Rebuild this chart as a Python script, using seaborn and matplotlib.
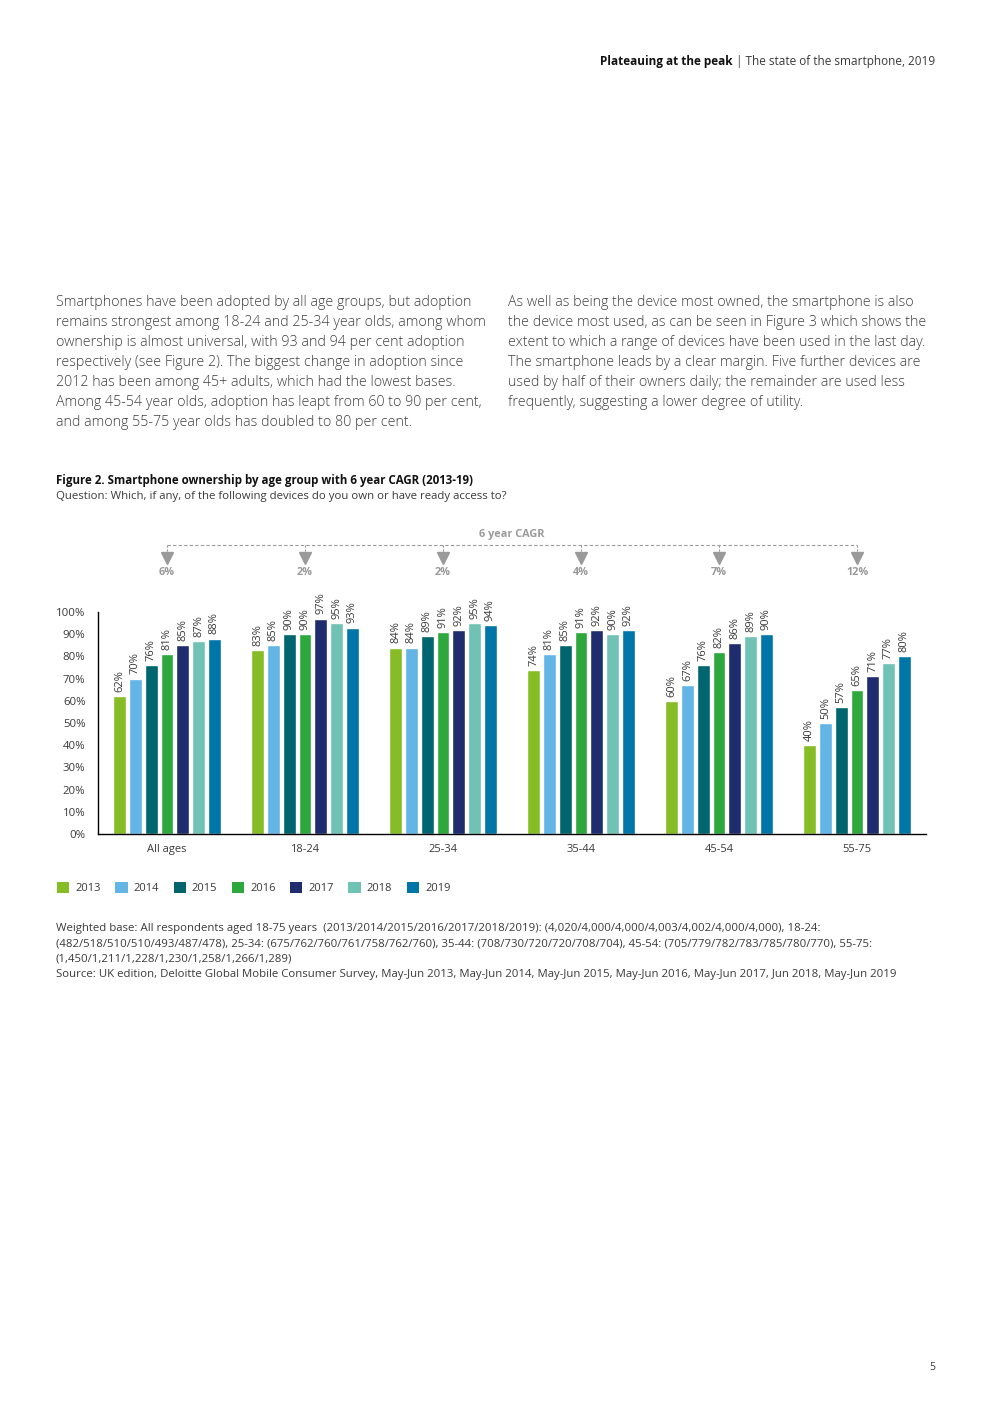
import matplotlib
matplotlib.use("Agg")
import matplotlib.pyplot as plt
import seaborn as sns
import pandas as pd
from matplotlib.patches import Patch

# ---------------- data ----------------
ages = ["All ages", "18-24", "25-34", "35-44", "45-54", "55-75"]
years = ["2013", "2014", "2015", "2016", "2017", "2018", "2019"]
v2013 = [62, 83, 84, 74, 60, 40]
v2014 = [70, 85, 84, 81, 67, 50]
v2015 = [76, 90, 89, 85, 76, 57]
v2016 = [81, 90, 91, 91, 82, 65]
v2017 = [85, 97, 92, 92, 86, 71]
v2018 = [87, 95, 95, 90, 89, 77]
v2019 = [88, 93, 94, 92, 90, 80]
cagr = ["6%", "2%", "2%", "4%", "7%", "12%"]
yticks = [0, 10, 20, 30, 40, 50, 60, 70, 80, 90, 100]

colors = ["#86bc25", "#62b5e5", "#00656e", "#2ea83c", "#1f2d6e", "#6fc2b4", "#0076a8"]

series = [v2013, v2014, v2015, v2016, v2017, v2018, v2019]
rows = []
for y, vals in zip(years, series):
    for a, v in zip(ages, vals):
        rows.append({"age": a, "year": y, "value": v})
df = pd.DataFrame(rows)

# ---------------- style ----------------
sns.set_theme(style="white")
plt.rcParams["font.family"] = ["Open Sans", "DejaVu Sans"]
TXT = "#3a3a3a"

W, H = 992, 1403
fig = plt.figure(figsize=(W / 100, H / 100), dpi=100)


def P(x, y):
    return (x / W, 1 - y / H)


# axes
left, right, bottom, top = 98, 926, 834, 612
ax = fig.add_axes([left / W, 1 - bottom / H, (right - left) / W, (bottom - top) / H])

sns.barplot(data=df, x="age", y="value", hue="year", hue_order=years, order=ages,
            palette=colors, ax=ax, width=0.8, gap=0.2, legend=False,
            saturation=1, errorbar=None)

for cont, vals in zip(ax.containers, series):
    ax.bar_label(cont, labels=[f"{v}%" for v in vals], rotation=90, padding=3,
                 fontsize=8, color=TXT)

ax.set_xlim(-0.5, 5.5)
ax.set_ylim(0, 100)
ax.set_yticks(yticks)
ax.set_yticklabels([f"{t}%" for t in yticks], fontsize=8.2, color=TXT)
ax.tick_params(axis="y", length=0, pad=9)
ax.tick_params(axis="x", length=0, pad=7, labelsize=8, labelcolor=TXT)
ax.set_xlabel("")
ax.set_ylabel("")
for s in ["top", "right"]:
    ax.spines[s].set_visible(False)
for s in ["left", "bottom"]:
    ax.spines[s].set_color("black")
    ax.spines[s].set_linewidth(1)

# CAGR bracket (data coords above the axes)
GRAY = "#9a9a9a"
y_line = (bottom - 545) / 2.22
y_tri = (bottom - 558) / 2.22
y_lab = (bottom - 572) / 2.22
y_head = (bottom - 534) / 2.22
ax.plot([0, 5], [y_line, y_line], ls=(0, (3, 2)), lw=0.8, color=GRAY, clip_on=False)
for i, c in enumerate(cagr):
    ax.plot([i, i], [y_line, y_tri], ls=(0, (2, 1.5)), lw=0.8, color=GRAY, clip_on=False)
    ax.plot([i], [y_tri], marker="v", ms=8, color=GRAY, mec=GRAY, clip_on=False)
    ax.text(i, y_lab, c, ha="center", va="center", fontsize=7.8, fontweight="bold",
            color=GRAY, clip_on=False)
ax.text(2.5, y_head, "6 year CAGR", ha="center", va="center", fontsize=7.8,
        fontweight="bold", color=GRAY, clip_on=False)

# header
hdr_r = fig.text(*P(935, 61), " | The state of the smartphone, 2019", ha="right",
                 va="center", fontsize=8.5, color=TXT)
fig.canvas.draw()
bb = hdr_r.get_window_extent()
fig.text(bb.x0 / W, 1 - 61 / H, "Plateauing at the peak", ha="right", va="center",
         fontsize=8.5, fontweight="bold", color="#111111")

# paragraphs
left_lines = [
    "Smartphones have been adopted by all age groups, but adoption",
    "remains strongest among 18-24 and 25-34 year olds, among whom",
    "ownership is almost universal, with 93 and 94 per cent adoption",
    "respectively (see Figure 2). The biggest change in adoption since",
    "2012 has been among 45+ adults, which had the lowest bases.",
    "Among 45-54 year olds, adoption has leapt from 60 to 90 per cent,",
    "and among 55-75 year olds has doubled to 80 per cent.",
]
right_lines = [
    "As well as being the device most owned, the smartphone is also",
    "the device most used, as can be seen in Figure 3 which shows the",
    "extent to which a range of devices have been used in the last day.",
    "The smartphone leads by a clear margin. Five further devices are",
    "used by half of their owners daily; the remainder are used less",
    "frequently, suggesting a lower degree of utility.",
]
for i, ln in enumerate(left_lines):
    fig.text(*P(56, 302 + 20 * i), ln, ha="left", va="center", fontsize=10.3,
             color="#3f3f3f", fontweight="light")
for i, ln in enumerate(right_lines):
    fig.text(*P(508, 302 + 20 * i), ln, ha="left", va="center", fontsize=10.3,
             color="#3f3f3f", fontweight="light")

# figure title
fig.text(*P(56, 481), "Figure 2. Smartphone ownership by age group with 6 year CAGR (2013-19)",
         ha="left", va="center", fontsize=8.3, fontweight="bold", color="#111111")
fig.text(*P(56, 496), "Question: Which, if any, of the following devices do you own or have ready access to?",
         ha="left", va="center", fontsize=8.2, color=TXT)

# legend
handles = [Patch(facecolor=c, edgecolor="none", label=y) for c, y in zip(colors, years)]
fig.legend(handles=handles, loc="center left", bbox_to_anchor=P(57, 888), ncol=7,
           frameon=False, fontsize=8, handlelength=1.1, handleheight=1.1,
           handletextpad=0.55, columnspacing=1.3, labelcolor=TXT, borderaxespad=0,
           borderpad=0)

# footnotes
notes = [
    "Weighted base: All respondents aged 18-75 years  (2013/2014/2015/2016/2017/2018/2019): (4,020/4,000/4,000/4,003/4,002/4,000/4,000), 18-24:",
    "(482/518/510/510/493/487/478), 25-34: (675/762/760/761/758/762/760), 35-44: (708/730/720/720/708/704), 45-54: (705/779/782/783/785/780/770), 55-75:",
    "(1,450/1,211/1,228/1,230/1,258/1,266/1,289)",
    "Source: UK edition, Deloitte Global Mobile Consumer Survey, May-Jun 2013, May-Jun 2014, May-Jun 2015, May-Jun 2016, May-Jun 2017, Jun 2018, May-Jun 2019",
]
probe = fig.text(0, 0, notes[0], fontsize=7)
fig.canvas.draw()
wpx = probe.get_window_extent().width
probe.remove()
fs_note = 7 * (818 - 56) / wpx
for i, ln in enumerate(notes):
    fig.text(*P(56, 929 + 15 * i), ln, ha="left", va="center", fontsize=fs_note,
             color=TXT)

fig.text(*P(932, 1368), "5", ha="center", va="center", fontsize=7.5, color=TXT)

fig.savefig("out.png", dpi=100, facecolor="white")
